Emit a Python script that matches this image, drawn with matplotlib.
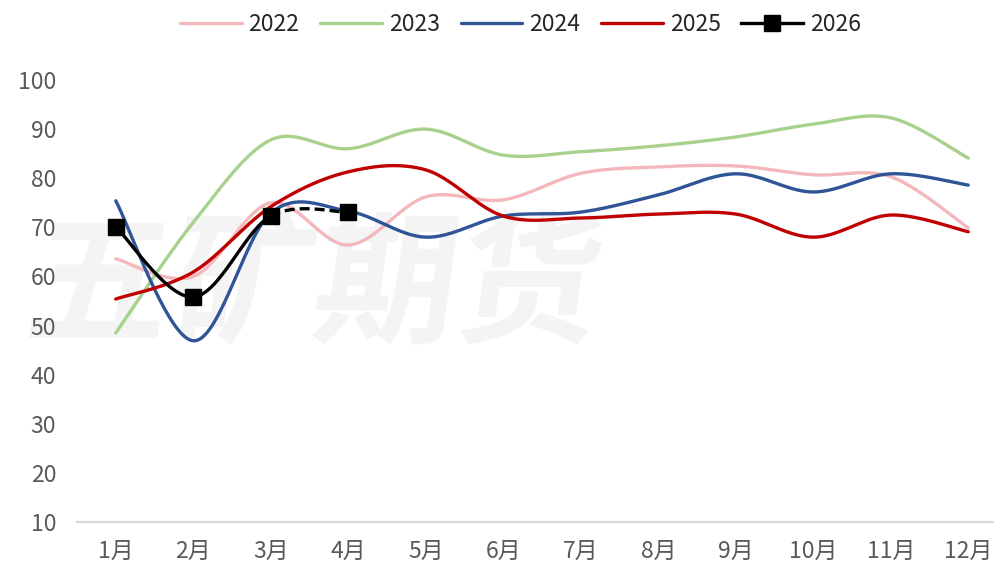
import numpy as np
import matplotlib.pyplot as plt
from matplotlib.font_manager import FontProperties
from matplotlib.textpath import TextPath
from matplotlib.patches import PathPatch
from matplotlib.transforms import Affine2D

plt.rcParams['font.family'] = ['Noto Sans CJK SC', 'DejaVu Sans']

months = ['1月', '2月', '3月', '4月', '5月', '6月', '7月', '8月', '9月', '10月', '11月', '12月']
v2022 = [63.6, 60.0, 75.0, 66.4, 76.2, 75.6, 81.0, 82.3, 82.5, 80.7, 80.3, 69.9]
v2023 = [48.5, 71.0, 87.8, 86.0, 90.0, 84.7, 85.4, 86.6, 88.4, 91.0, 92.3, 84.1]
v2024 = [75.4, 46.9, 72.9, 73.3, 68.0, 72.3, 73.1, 76.6, 80.9, 77.2, 80.9, 78.6]
v2025 = [55.4, 60.9, 74.2, 81.3, 81.7, 72.3, 71.9, 72.7, 72.7, 68.0, 72.5, 69.1]
v2026 = [70.1, 55.8, 72.3, 73.1]

C2022, C2023, C2024, C2025 = '#F4B8BC', '#A9D18E', '#2F5597', '#C00000'


def smooth(xs, ys, n=40):
    # Catmull-Rom curve through the points, like a smoothed office line chart
    xs = np.asarray(xs, float)
    ys = np.asarray(ys, float)
    px = np.concatenate([[xs[0]], xs, [xs[-1]]])
    py = np.concatenate([[ys[0]], ys, [ys[-1]]])
    outx, outy = [], []
    t = np.linspace(0, 1, n)
    for i in range(1, len(px) - 2):
        p0 = np.array([px[i], py[i]])
        p3 = np.array([px[i + 1], py[i + 1]])
        p1 = p0 + (np.array([px[i + 1], py[i + 1]]) - np.array([px[i - 1], py[i - 1]])) / 6
        p2 = p3 - (np.array([px[i + 2], py[i + 2]]) - np.array([px[i], py[i]])) / 6
        b = ((1 - t) ** 3)[:, None] * p0 + (3 * (1 - t) ** 2 * t)[:, None] * p1 \
            + (3 * (1 - t) * t ** 2)[:, None] * p2 + (t ** 3)[:, None] * p3
        if i > 1:
            b = b[1:]
        outx.append(b[:, 0])
        outy.append(b[:, 1])
    return np.concatenate(outx), np.concatenate(outy)


fig = plt.figure(figsize=(9.95, 5.68), dpi=100)
ax = fig.add_axes([77 / 995, 1 - 522 / 568, 930 / 995, 442 / 568])

# faint watermark behind the data
fp = FontProperties(family='Noto Sans CJK SC', weight='bold')
tp = TextPath((0, 0), '五矿期货', size=1, prop=fp)
bb = tp.get_extents()
sc = 560 / bb.width
tr = Affine2D().translate(-bb.x0, -bb.y0).skew_deg(8, 0).scale(sc / 100).translate(28 / 100, (568 - 345) / 100)
wm = PathPatch(tp, facecolor='#F4F4F4', edgecolor='none', transform=tr + fig.dpi_scale_trans, zorder=-1)
fig.add_artist(wm)
ax.set_facecolor('none')

x = np.arange(len(months))
lw = 2.4
for vals, col, lab in [(v2022, C2022, '2022'), (v2023, C2023, '2023'),
                       (v2024, C2024, '2024'), (v2025, C2025, '2025')]:
    sx, sy = smooth(x, vals)
    ax.plot(sx, sy, color=col, lw=lw, label=lab, solid_capstyle='round')

x26 = np.arange(len(v2026))
sx, sy = smooth(x26, v2026)
split = np.searchsorted(sx, 2.0) + 1
ax.plot(sx[:split], sy[:split], color='black', lw=lw, zorder=4)
ax.plot(sx[split - 1:], sy[split - 1:], color='black', lw=lw, ls=(0, (3, 1.5)), zorder=4)
ax.plot(x26, v2026, ls='none', marker='s', ms=12, color='black', zorder=5)
ax.plot([], [], color='black', lw=lw, marker='s', ms=12, label='2026')

ax.set_xlim(-0.5, len(months) - 0.5)
ax.set_ylim(10, 100)
ax.set_yticks(range(10, 101, 10))
ax.set_xticks(x)
ax.set_xticklabels(months)
for s in ['left', 'right', 'top']:
    ax.spines[s].set_visible(False)
ax.spines['bottom'].set_color('#D9D9D9')
ax.spines['bottom'].set_linewidth(1.5)
ax.tick_params(axis='both', length=0, labelsize=16.5, labelcolor='#595959')
ax.tick_params(axis='y', pad=15)
ax.tick_params(axis='x', pad=13)

leg = fig.legend(loc='center', bbox_to_anchor=(0.523, 0.957), ncol=5, frameon=False,
                 fontsize=16.5, handlelength=2.7, columnspacing=0.9, handletextpad=0.3)
for t in leg.get_texts():
    t.set_color('#262626')

fig.savefig('out.png', dpi=100)
